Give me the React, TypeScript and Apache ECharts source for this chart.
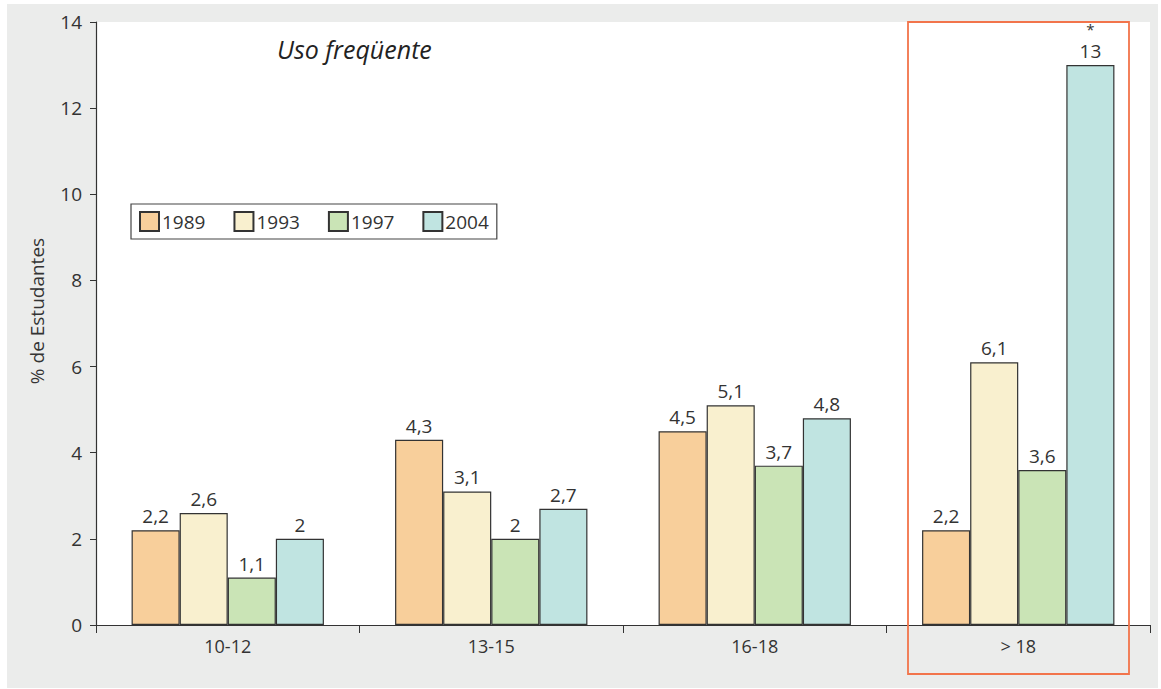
import React, { useEffect, useRef } from "react";
import * as echarts from "echarts";

const categories = ["10-12", "13-15", "16-18", "> 18"];
const years = ["1989", "1993", "1997", "2004"];
const v1989 = [2.2, 4.3, 4.5, 2.2];
const v1993 = [2.6, 3.1, 5.1, 6.1];
const v1997 = [1.1, 2.0, 3.7, 3.6];
const v2004 = [2.0, 2.7, 4.8, 13.0];
const notes2004 = ["", "", "", "*"];
const yTicks = [0, 2, 4, 6, 8, 10, 12, 14];
const colors = ["#f8cf9b", "#f9f0cf", "#cae4b6", "#c0e4e1"];

const FONT = "'Open Sans', 'Noto Sans', sans-serif";
const fmt = (v: number) => String(v).replace(".", ",");

export default function App() {
  const ref = useRef<HTMLDivElement>(null);
  useEffect(() => {
    const chart = echarts.init(ref.current!, null, { renderer: "svg" });
    const allValues = [v1989, v1993, v1997, v2004];
    const series = years.map((y, i) => ({
      name: y,
      type: "bar",
      data: allValues[i],
      barGap: "0%",
      barCategoryGap: "27%",
      itemStyle: { color: colors[i], borderColor: "#333", borderWidth: 1.2 },
      label: {
        show: true,
        position: "top",
        distance: 4,
        color: "#333",
        fontSize: 19,
        fontFamily: FONT,
        formatter: (p: any) => {
          const note = i === 3 ? notes2004[p.dataIndex] : "";
          return (note ? "{n|" + note + "}\n" : "") + "{v|" + fmt(p.value) + "}";
        },
        rich: {
          n: { fontSize: 15, lineHeight: 24, color: "#333", fontFamily: FONT },
          v: { fontSize: 19, lineHeight: 20, color: "#333", fontFamily: FONT },
        },
      },
    }));
    chart.setOption({
      animation: false,
      textStyle: { fontFamily: FONT },
      grid: {
        left: 96,
        right: 11,
        top: 22,
        bottom: 64,
        show: true,
        backgroundColor: "#ffffff",
        borderWidth: 0,
      },
      legend: {
        data: years,
        left: 131,
        top: 204,
        orient: "horizontal",
        itemWidth: 19,
        itemHeight: 19,
        itemGap: 28,
        padding: [7, 8, 7, 8],
        borderColor: "#444",
        borderWidth: 1.2,
        textStyle: { fontSize: 19, color: "#333", fontFamily: FONT, padding: [0, 0, 0, -2] },
        icon: "rect",
      },
      xAxis: {
        type: "category",
        data: categories,
        axisLine: { lineStyle: { color: "#333", width: 1.2 } },
        axisTick: { show: true, length: 8, lineStyle: { color: "#333" } },
        axisLabel: { fontSize: 18, color: "#333", margin: 12, fontFamily: FONT },
      },
      yAxis: {
        type: "value",
        min: yTicks[0],
        max: yTicks[yTicks.length - 1],
        interval: 2,
        axisLine: { show: true, lineStyle: { color: "#333", width: 1.2 } },
        axisTick: { show: true, length: 6, lineStyle: { color: "#333" } },
        axisLabel: { fontSize: 19, color: "#333", margin: 14, fontFamily: FONT },
        splitLine: { show: false },
      },
      graphic: [
        {
          type: "rect",
          z: -10,
          silent: true,
          shape: { x: 7, y: 4, width: 1151, height: 684 },
          style: { fill: "#ebeceb" },
        },
        {
          type: "text",
          x: 37,
          y: 311,
          rotation: Math.PI / 2,
          style: {
            text: "% de Estudantes",
            fontSize: 19,
            fontFamily: FONT,
            fill: "#333",
            align: "center",
            verticalAlign: "middle",
          },
        },
        {
          type: "text",
          left: 277,
          top: 36,
          style: {
            text: "Uso freqüente",
            fontSize: 25,
            fontStyle: "italic",
            fontFamily: FONT,
            fill: "#222",
          },
        },
        {
          type: "rect",
          z: 100,
          silent: true,
          shape: { x: 908, y: 22, width: 221, height: 652 },
          style: { fill: "none", stroke: "#f2744b", lineWidth: 1.8 },
        },
      ],
      series,
    });
    return () => chart.dispose();
  }, []);
  return (
    <div
      ref={ref}
      style={{ position: "fixed", left: 0, top: 0, width: 1161, height: 689, background: "#ffffff" }}
    />
  );
}
